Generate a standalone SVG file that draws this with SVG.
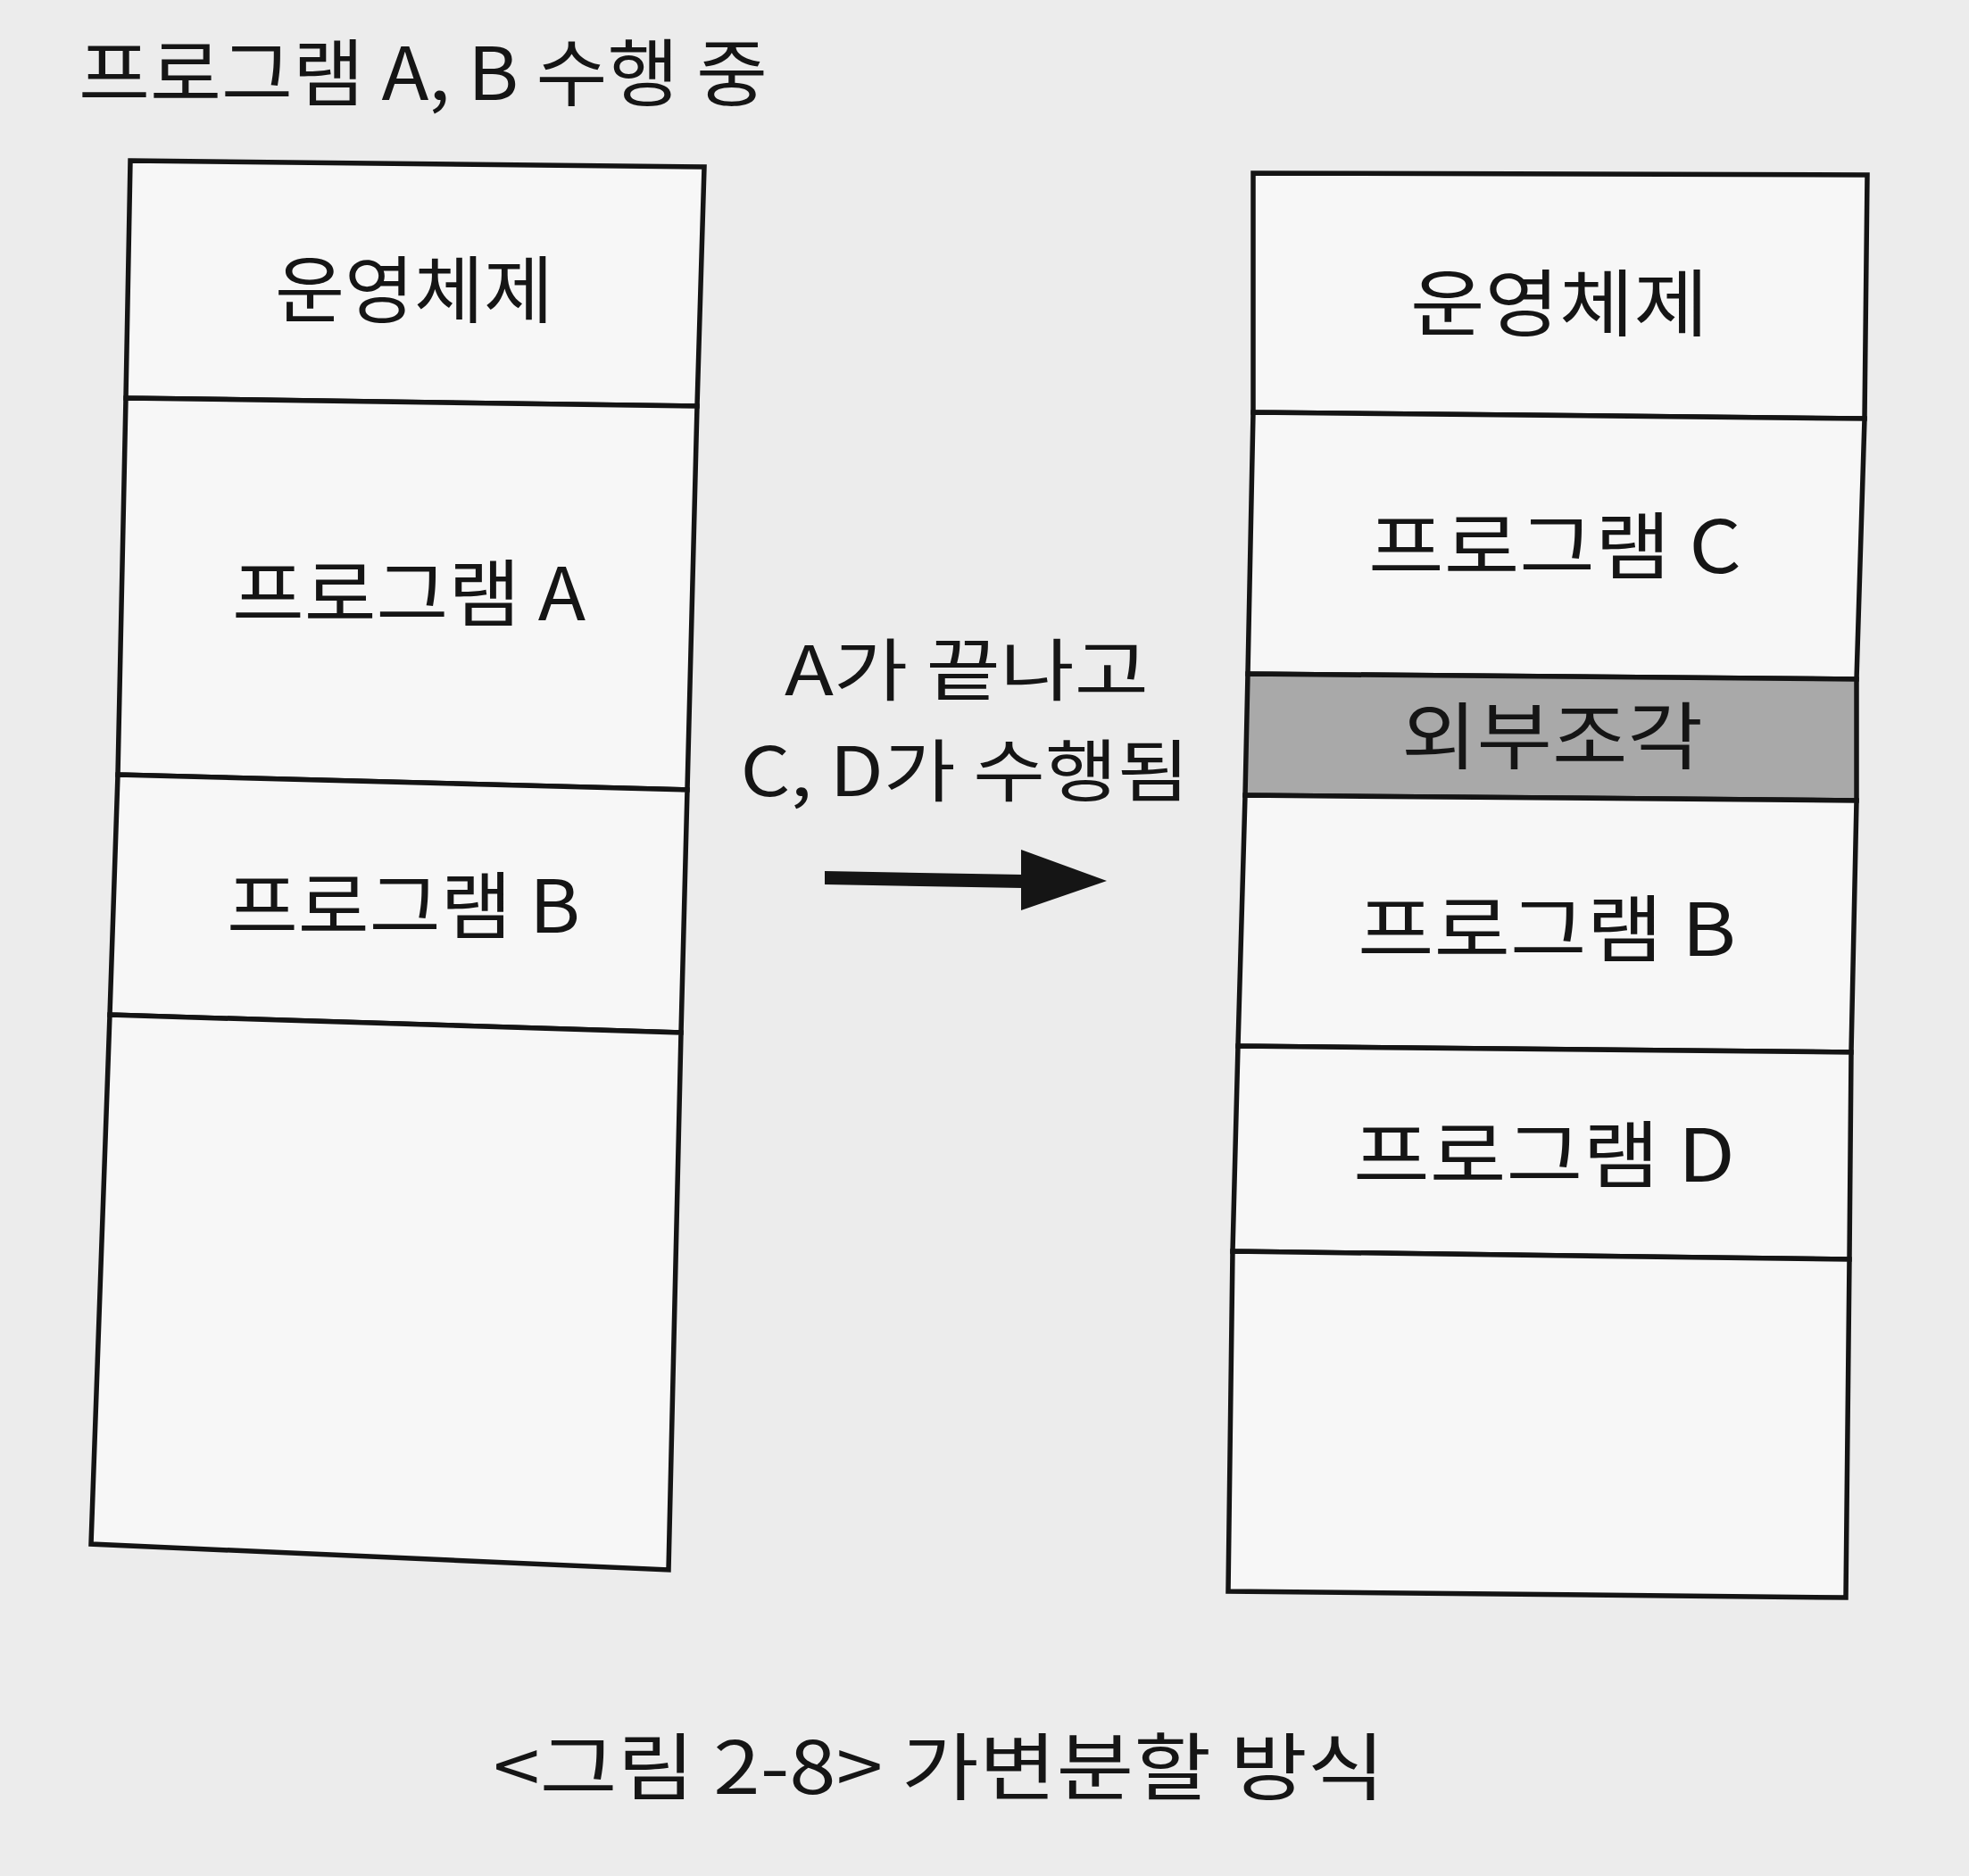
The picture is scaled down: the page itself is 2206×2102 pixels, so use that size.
<svg xmlns="http://www.w3.org/2000/svg" width="2206" height="2102" viewBox="0 0 2206 2102">
<style>
.cell{fill:#f7f7f7;stroke:#141414;stroke-width:5.5;stroke-linejoin:miter}
.frag{fill:#a9a9a9;stroke:#141414;stroke-width:5.5}
.t{font-family:"Noto Sans CJK KR","Noto Sans",sans-serif;font-size:82px;fill:#151515;text-anchor:middle}
.ts{font-family:"Noto Sans CJK KR","Noto Sans",sans-serif;font-size:82px;fill:#151515}
.lbl{font-family:"Noto Sans CJK KR","Noto Sans",sans-serif;font-size:76px;fill:#151515;text-anchor:middle}
</style>
<rect x="0" y="0" width="2206" height="2102" fill="#ececec"/>
<g id="title"><text class="ts" x="88" y="112" textLength="772" lengthAdjust="spacingAndGlyphs">프로그램 A, B 수행 중</text></g>

<g id="left-os"><polygon class="cell" points="146,180 789,187 781,455 141,446"/><text class="t" x="464" y="355" textLength="312" lengthAdjust="spacingAndGlyphs">운영체제</text></g>
<g id="left-prog-a"><polygon class="cell" points="141,446 781,455 770,885 132,868"/><text class="t" x="458" y="695" textLength="396" lengthAdjust="spacingAndGlyphs">프로그램 A</text></g>
<g id="left-prog-b"><polygon class="cell" points="132,868 770,885 763,1157 123,1137"/><text class="t" x="452" y="1045" textLength="396" lengthAdjust="spacingAndGlyphs">프로그램 B</text></g>
<g id="left-free"><polygon class="cell" points="123,1137 763,1157 749,1759 102,1730"/></g>

<g id="right-os"><polygon class="cell" points="1404,194 2092,196 2089,469 1404,462"/><text class="t" x="1747" y="370" textLength="334" lengthAdjust="spacingAndGlyphs">운영체제</text></g>
<g id="right-prog-c"><polygon class="cell" points="1404,462 2089,469 2080,761 1398,755"/><text class="t" x="1742" y="642" textLength="418" lengthAdjust="spacingAndGlyphs">프로그램 C</text></g>
<g id="right-frag"><polygon class="frag" points="1398,755 2080,761 2080,897 1395,891"/><text class="t" x="1739" y="855" textLength="338" lengthAdjust="spacingAndGlyphs">외부조각</text></g>
<g id="right-prog-b"><polygon class="cell" points="1395,891 2080,897 2074,1179 1387,1172"/><text class="t" x="1733" y="1071" textLength="424" lengthAdjust="spacingAndGlyphs">프로그램 B</text></g>
<g id="right-prog-d"><polygon class="cell" points="1387,1172 2074,1179 2072,1411 1381,1402"/><text class="t" x="1730" y="1324" textLength="428" lengthAdjust="spacingAndGlyphs">프로그램 D</text></g>
<g id="right-free"><polygon class="cell" points="1381,1402 2072,1411 2068,1790 1376,1783"/></g>

<g id="connectors">
<g id="transition">
<text class="lbl" x="1083" y="779" textLength="408" lengthAdjust="spacingAndGlyphs">A가 끝나고</text>
<text class="lbl" x="1081" y="892" textLength="503" lengthAdjust="spacingAndGlyphs">C, D가 수행됨</text>
<polygon points="924,976 1146,980 1146,995 924,991" fill="#151515"/>
<polygon points="1144,952 1240,987 1144,1020" fill="#151515"/>
</g>
</g>

<g id="caption"><text class="t" x="1052" y="2010" textLength="999" lengthAdjust="spacingAndGlyphs">&lt;그림 2-8&gt; 가변분할 방식</text></g>
</svg>
